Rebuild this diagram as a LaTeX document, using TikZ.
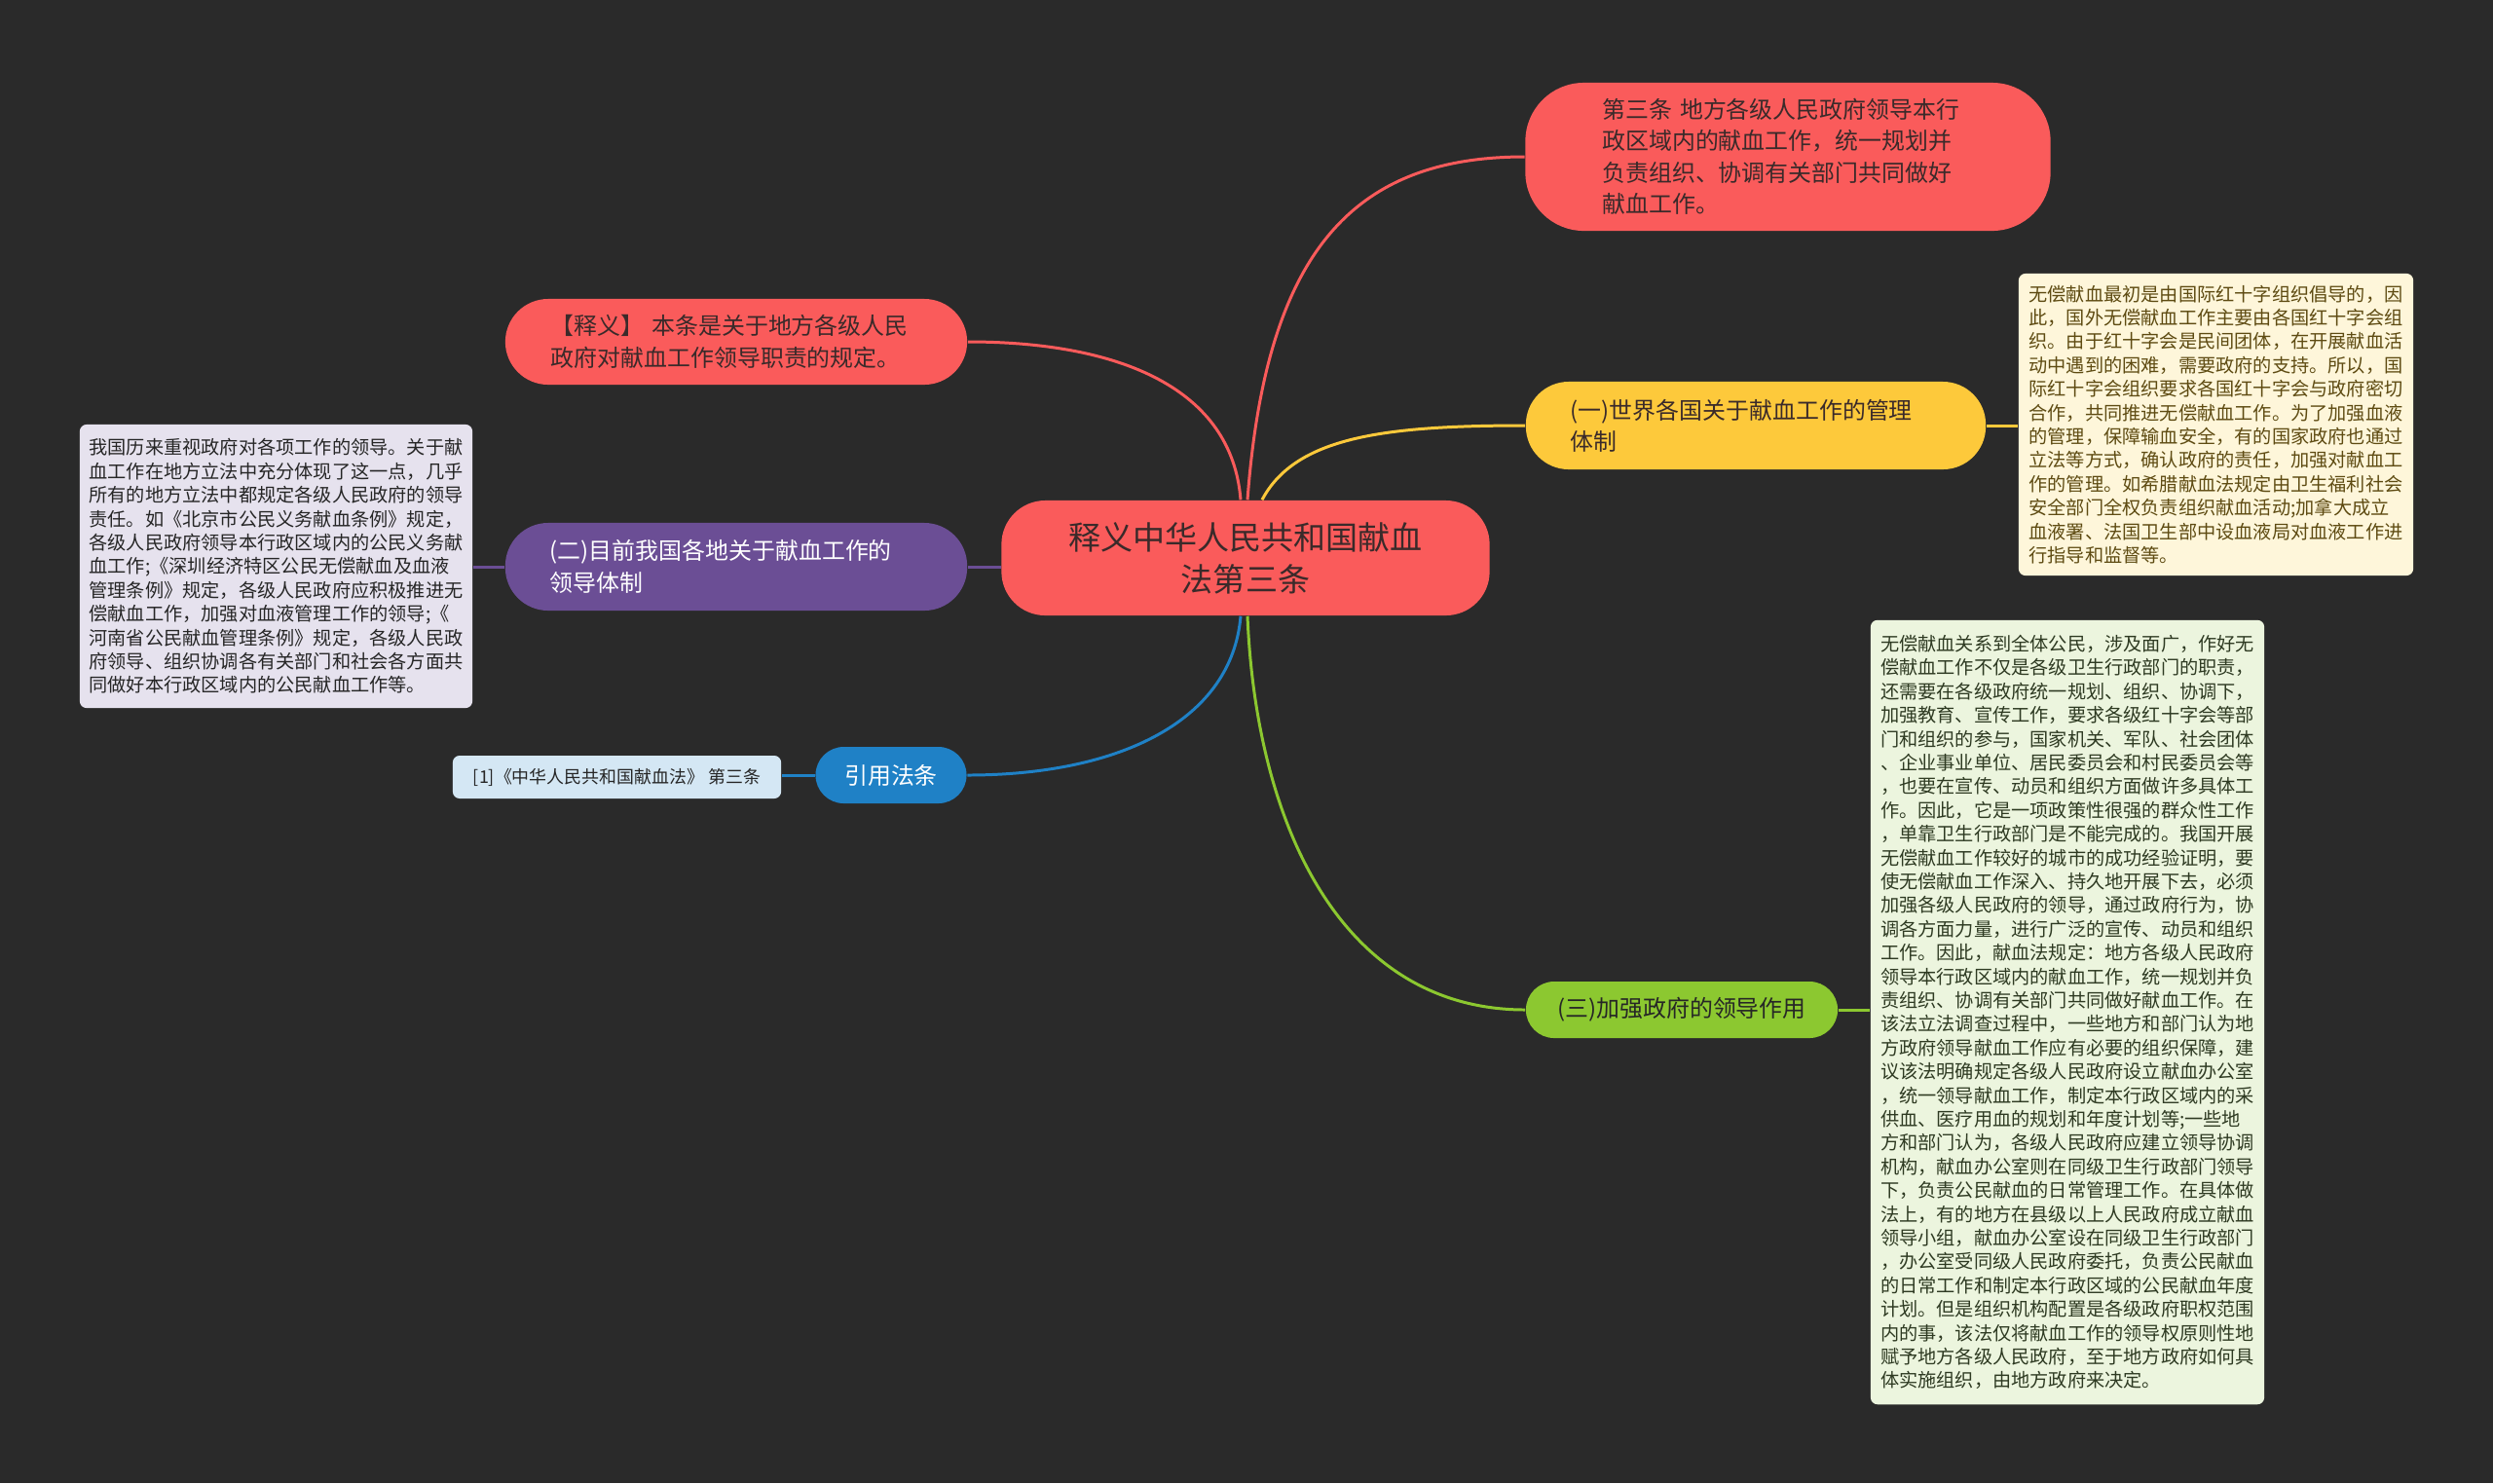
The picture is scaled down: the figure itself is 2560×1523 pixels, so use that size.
\documentclass[tikz,border=0pt]{standalone}
\usepackage{fontspec}
\setmainfont{Noto Sans CJK SC}
\definecolor{bgc}{HTML}{2A2A2A}
\definecolor{redc}{HTML}{FA5B5B}
\definecolor{yellowc}{HTML}{FDC93B}
\definecolor{purplec}{HTML}{6B4E95}
\definecolor{bluec}{HTML}{1F81C6}
\definecolor{greenc}{HTML}{8CC830}
\definecolor{darktxt}{HTML}{3A2A2A}
\definecolor{creamc}{HTML}{FEF6DA}
\definecolor{lilacc}{HTML}{E6E2EE}
\definecolor{mintc}{HTML}{ECF5DE}
\definecolor{skyc}{HTML}{D4E7F4}

\begin{document}
\begin{tikzpicture}[
     x=0.01cm,y=-0.01cm,
     topic/.style={rounded corners=0.44cm,align=left,inner sep=0pt,text=darktxt,
       font=\fontsize{6.8}{9.2}\selectfont},
     memo/.style={rounded corners=0.07cm,align=left,inner sep=0pt,
       font=\fontsize{5.46}{6.94}\selectfont},
     link/.style={line width=0.85pt}
   ]
   \fill[bgc] (0,0) rectangle (2560,1523);
   \useasboundingbox (0,0) rectangle (2560,1523);
   % Central topic.
   \node[fill=redc,rounded corners=0.45cm,minimum width=5.01cm,minimum height=1.18cm,
     align=center,text=darktxt,font=\fontsize{9.4}{12.2}\selectfont] (main) at (1279,573)
     {释义中华人民共和国献血\\法第三条};
   % Branches.
   \node[topic,fill=redc,rounded corners=0.6cm,text width=3.81cm,inner xsep=0.79cm,minimum height=1.52cm] (art) at (1836,161)
     {第三条 地方各级人民政府领导本行\\政区域内的献血工作，统一规划并\\负责组织、协调有关部门共同做好\\献血工作。};
   \node[topic,fill=redc,text width=3.80cm,inner xsep=0.47cm,minimum height=0.88cm] (expl) at (756,351)
     {【释义】 本条是关于地方各级人民\\政府对献血工作领导职责的规定。};
   \node[topic,fill=yellowc,text width=3.80cm,inner xsep=0.46cm,minimum height=0.90cm] (world) at (1803,437)
     {(一)世界各国关于献血工作的管理\\体制};
   \node[topic,fill=purplec,text=white,text width=3.82cm,inner xsep=0.46cm,minimum height=0.90cm] (local) at (756,582)
     {(二)目前我国各地关于献血工作的\\领导体制};
   \node[topic,fill=bluec,text=white,rounded corners=0.29cm,minimum width=1.55cm,minimum height=0.58cm] (cite) at (915,796)
     {引用法条};
   \node[topic,fill=greenc,text=black!85,rounded corners=0.29cm,minimum width=3.20cm,minimum height=0.58cm] (gov) at (1727,1037)
     {(三)加强政府的领导作用};
   % Notes.
   \node[memo,fill=creamc,text={rgb,255:red,94;green,75;blue,18},minimum width=4.05cm,minimum height=3.10cm] (worldnote) at (2275.5,436)
     {无偿献血最初是由国际红十字组织倡导的，因\\
      此，国外无偿献血工作主要由各国红十字会组\\
      织。由于红十字会是民间团体，在开展献血活\\
      动中遇到的困难，需要政府的支持。所以，国\\
      际红十字会组织要求各国红十字会与政府密切\\
      合作，共同推进无偿献血工作。为了加强血液\\
      的管理，保障输血安全，有的国家政府也通过\\
      立法等方式，确认政府的责任，加强对献血工\\
      作的管理。如希腊献血法规定由卫生福利社会\\
      安全部门全权负责组织献血活动;加拿大成立\\
      血液署、法国卫生部中设血液局对血液工作进\\
      行指导和监督等。};
   \node[memo,fill=lilacc,text=black!85,minimum width=4.03cm,minimum height=2.91cm] (localnote) at (283.5,581.5)
     {我国历来重视政府对各项工作的领导。关于献\\
      血工作在地方立法中充分体现了这一点，几乎\\
      所有的地方立法中都规定各级人民政府的领导\\
      责任。如《北京市公民义务献血条例》规定，\\
      各级人民政府领导本行政区域内的公民义务献\\
      血工作;《深圳经济特区公民无偿献血及血液\\
      管理条例》规定，各级人民政府应积极推进无\\
      偿献血工作，加强对血液管理工作的领导;《\\
      河南省公民献血管理条例》规定，各级人民政\\
      府领导、组织协调各有关部门和社会各方面共\\
      同做好本行政区域内的公民献血工作等。};
   \node[memo,fill=skyc,text=black!85,minimum width=3.37cm,minimum height=0.44cm,
     font=\fontsize{5.1}{6.5}\selectfont] (citeleaf) at (633.5,798)
     {[1]《中华人民共和国献血法》 第三条};
   \node[memo,fill=mintc,text={rgb,255:red,46;green,58;blue,34},minimum width=4.04cm,minimum height=8.05cm] (govnote) at (2123,1039.5)
     {无偿献血关系到全体公民，涉及面广，作好无\\
      偿献血工作不仅是各级卫生行政部门的职责，\\
      还需要在各级政府统一规划、组织、协调下，\\
      加强教育、宣传工作，要求各级红十字会等部\\
      门和组织的参与，国家机关、军队、社会团体\\
      、企业事业单位、居民委员会和村民委员会等\\
      ，也要在宣传、动员和组织方面做许多具体工\\
      作。因此，它是一项政策性很强的群众性工作\\
      ，单靠卫生行政部门是不能完成的。我国开展\\
      无偿献血工作较好的城市的成功经验证明，要\\
      使无偿献血工作深入、持久地开展下去，必须\\
      加强各级人民政府的领导，通过政府行为，协\\
      调各方面力量，进行广泛的宣传、动员和组织\\
      工作。因此，献血法规定：地方各级人民政府\\
      领导本行政区域内的献血工作，统一规划并负\\
      责组织、协调有关部门共同做好献血工作。在\\
      该法立法调查过程中，一些地方和部门认为地\\
      方政府领导献血工作应有必要的组织保障，建\\
      议该法明确规定各级人民政府设立献血办公室\\
      ，统一领导献血工作，制定本行政区域内的采\\
      供血、医疗用血的规划和年度计划等;一些地\\
      方和部门认为，各级人民政府应建立领导协调\\
      机构，献血办公室则在同级卫生行政部门领导\\
      下，负责公民献血的日常管理工作。在具体做\\
      法上，有的地方在县级以上人民政府成立献血\\
      领导小组，献血办公室设在同级卫生行政部门\\
      ，办公室受同级人民政府委托，负责公民献血\\
      的日常工作和制定本行政区域的公民献血年度\\
      计划。但是组织机构配置是各级政府职权范围\\
      内的事，该法仅将献血工作的领导权原则性地\\
      赋予地方各级人民政府，至于地方政府如何具\\
      体实施组织，由地方政府来决定。};
   % Connectors.
   \draw[link,redc] ([xshift=0.02cm]main.north) .. controls +(19,-254) and +(-177,0) .. (art.west);
   \draw[link,redc] ([xshift=-0.05cm]main.north) .. controls +(-9,-114) and +(157,0) .. (expl.east);
   \draw[link,yellowc] ([xshift=0.17cm]main.north) .. controls +(34,-64) and +(-147,0) .. (world.west);
   \draw[link,purplec] (local.east) -- (local.east -| main.west);
   \draw[link,bluec] ([xshift=-0.05cm]main.south) .. controls +(-9,107) and +(157,0) .. (cite.east);
   \draw[link,greenc] ([xshift=0.02cm]main.south) .. controls +(9,217) and +(-187,0) .. (gov.west);
   \draw[link,yellowc] (world.east) -- (world.east -| worldnote.west);
   \draw[link,purplec] (local.west) -- (local.west -| localnote.east);
   \draw[link,bluec] (cite.west) -- (cite.west -| citeleaf.east);
   \draw[link,greenc] (gov.east) -- (gov.east -| govnote.west);
 \end{tikzpicture}
\end{document}
